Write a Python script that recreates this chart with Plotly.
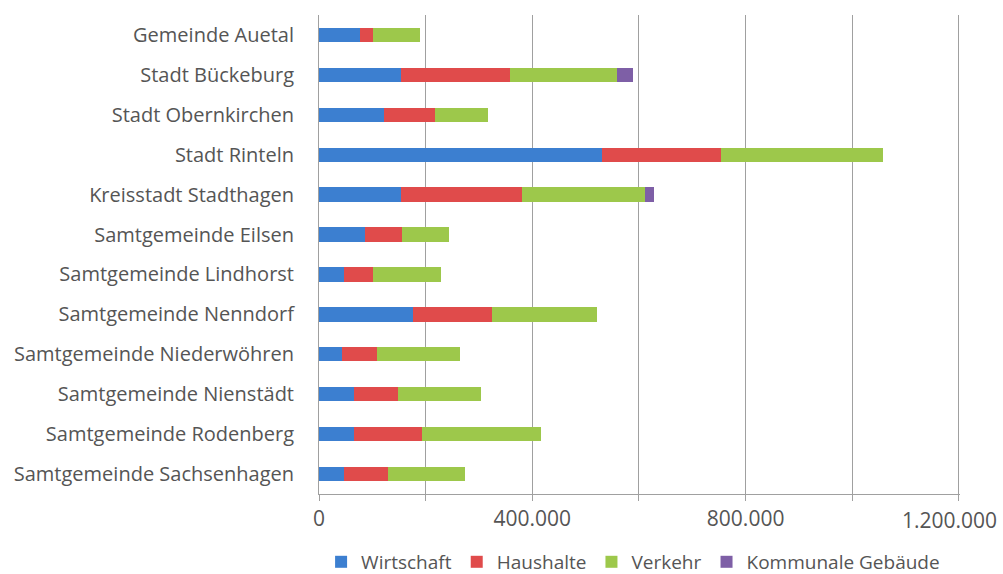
import plotly.graph_objects as go

categories = [
    "Gemeinde Auetal", "Stadt Bückeburg", "Stadt Obernkirchen", "Stadt Rinteln",
    "Kreisstadt Stadthagen", "Samtgemeinde Eilsen", "Samtgemeinde Lindhorst",
    "Samtgemeinde Nenndorf", "Samtgemeinde Niederwöhren", "Samtgemeinde Nienstädt",
    "Samtgemeinde Rodenberg", "Samtgemeinde Sachsenhagen",
]
wirtschaft = [77000, 153000, 122000, 531000, 153000, 86000, 46000, 177000, 43000, 66000, 66000, 46000]
haushalte = [24000, 206000, 96000, 222000, 228000, 69000, 56000, 147000, 65000, 83000, 127000, 84000]
verkehr = [89000, 199000, 99000, 304000, 231000, 88000, 127000, 197000, 157000, 155000, 224000, 144000]
kommunale = [0, 31000, 0, 0, 17000, 0, 0, 0, 0, 0, 0, 0]

tick_values = [0, 400000, 800000, 1200000]
tick_labels = ["0", "400.000", "800.000", "1.200.000"]

series = [
    ("Wirtschaft", wirtschaft, "#3C7FD0"),
    ("Haushalte", haushalte, "#E04B4B"),
    ("Verkehr", verkehr, "#9DC84B"),
    ("Kommunale Gebäude", kommunale, "#7E5FA6"),
]

fig = go.Figure()
for name, vals, col in series:
    fig.add_trace(go.Bar(
        y=categories, x=vals, name=name, orientation="h",
        marker=dict(color=col, line=dict(width=0)), width=0.36,
    ))

# the last tick label is nudged inward (as in the reference), so it is drawn as an annotation
axis_text = tick_labels[:-1] + [""]
fig.add_annotation(
    x=tick_values[-1], xref="x", y=0, yref="paper",
    text=tick_labels[-1], showarrow=False,
    xanchor="center", yanchor="middle", xshift=-9, yshift=-26,
    font=dict(size=21, color="#555555"),
)

fig.update_layout(
    barmode="stack",
    width=1003, height=574,
    margin=dict(l=319, r=43, t=15, b=80, autoexpand=False),
    paper_bgcolor="white", plot_bgcolor="white",
    font=dict(family="Open Sans, Noto Sans, sans-serif", size=20, color="#555555"),
    showlegend=True,
    legend=dict(orientation="h", x=0.49, xanchor="center", xref="paper",
                y=0.021, yanchor="middle", yref="container",
                font=dict(size=19, color="#555555"), itemwidth=30, traceorder="normal"),
    xaxis=dict(
        range=[0, 1202000], tickmode="array", tickvals=tick_values, ticktext=axis_text,
        showgrid=True, gridcolor="#A0A0A0", gridwidth=1,
        showline=True, linecolor="#A0A0A0", linewidth=1,
        ticks="outside", ticklen=6, tickcolor="#A0A0A0",
        minor=dict(dtick=200000, tick0=0, showgrid=True, gridcolor="#A0A0A0",
                   ticks="outside", ticklen=6, tickcolor="#A0A0A0"),
        zeroline=False, fixedrange=True, ticklabeloverflow="allow",
        tickfont=dict(size=21, color="#555555"),
    ),
    yaxis=dict(
        autorange="reversed", showline=True, linecolor="#A0A0A0", linewidth=1,
        ticks="", showgrid=False, ticklabelstandoff=20,
        tickfont=dict(size=20, color="#555555"),
    ),
)

fig.write_html("out.html")
